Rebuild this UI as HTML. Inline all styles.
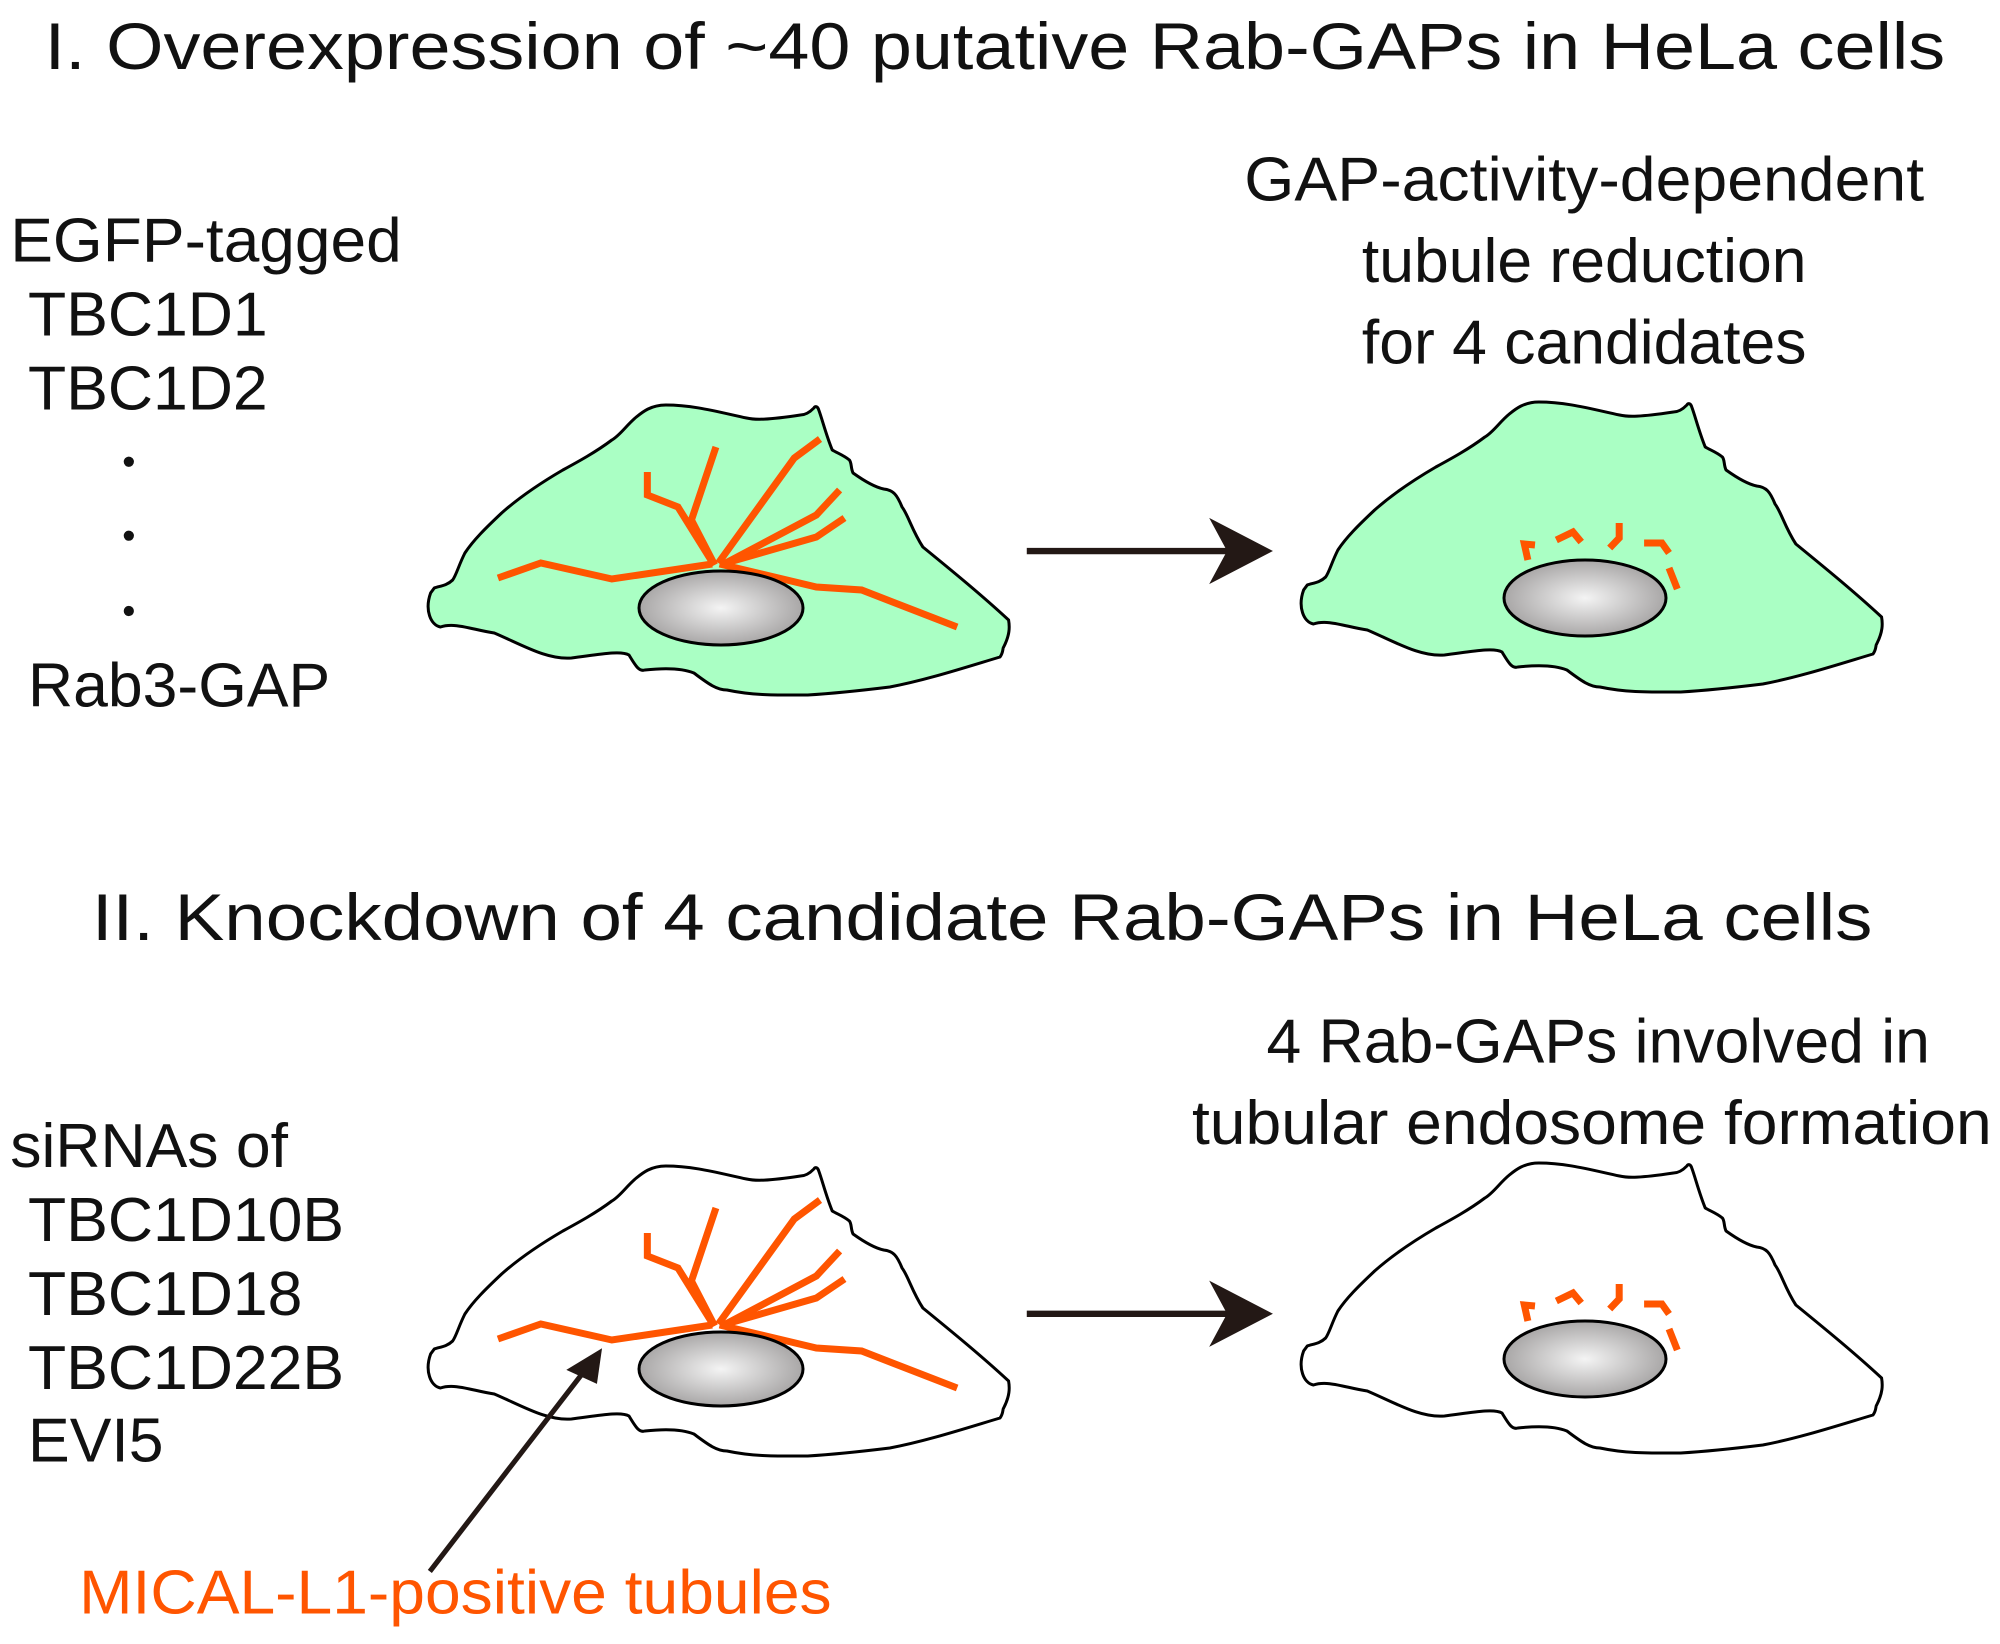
<!DOCTYPE html>
<html><head><meta charset="utf-8"><style>
html,body{margin:0;padding:0;background:#fff;}
svg{display:block;}
text{font-family:"Liberation Sans",Arial,sans-serif;fill:#111;}
</style></head><body>
<svg width="2000" height="1644" viewBox="0 0 2000 1644" xmlns="http://www.w3.org/2000/svg">
<defs>
<radialGradient id="nuc" cx="50%" cy="50%" r="50%">
<stop offset="0" stop-color="#f4f4f4"/><stop offset="1" stop-color="#a9a7a7"/>
</radialGradient>
<path id="cell" vector-effect="non-scaling-stroke" d="M425,593 C420,610 425,625 433,627 C445,622 460,630 477,633 C500,645 520,660 540,658 C560,655 580,650 587,655 C592,665 595,672 600,670 C615,668 630,668 640,673 C650,682 658,690 667,690 C690,696 710,695 733,695 C760,693 780,690 800,687 C830,680 860,668 890,657 C893,652 892,648 893,647 C898,635 898,627 897,620 C875,595 850,570 827,547 C818,530 815,515 810,507 C806,495 803,490 795,489 C787,487 778,480 770,473 C768,468 769,463 767,460 C762,455 757,453 753,450 C748,435 745,420 742,410 C741,406 739,406 738,408 C734,413 730,415 727,415 C700,420 690,420 683,418 C660,412 640,405 617,405 C605,405 598,412 593,417 C585,425 580,435 573,440 C560,452 545,462 533,470 C512,485 495,500 483,513 C470,528 460,540 453,553 C448,565 446,575 443,580 C438,586 432,586 428,588 Z"/>
<g id="tub" fill="none" stroke="#ff5500" stroke-width="7" stroke-linejoin="miter">
<polyline vector-effect="non-scaling-stroke" points="480,578 515,563 573,579 655,564"/>
<polyline vector-effect="non-scaling-stroke" points="602,472 602,495 627,507 656,564"/>
<polyline vector-effect="non-scaling-stroke" points="658,447 638,520 657,565"/>
<polyline vector-effect="non-scaling-stroke" points="743,439 722,458 660,563"/>
<polyline vector-effect="non-scaling-stroke" points="759,490 740,515 663,565"/>
<polyline vector-effect="non-scaling-stroke" points="763,518 740,537 666,563"/>
<polyline vector-effect="non-scaling-stroke" points="661,564 740,587 777,590 855,627"/>
</g>
<g id="dash" fill="none" stroke="#ff5500" stroke-width="7">
<polyline vector-effect="non-scaling-stroke" points="1489,560 1486,544 1495,545"/>
<polyline vector-effect="non-scaling-stroke" points="1513,540 1527,532 1534,542"/>
<polyline vector-effect="non-scaling-stroke" points="1566,523 1566,538 1558,548"/>
<polyline vector-effect="non-scaling-stroke" points="1587,543 1602,543 1608,553"/>
<polyline vector-effect="non-scaling-stroke" points="1608,568 1615,589"/>
</g>
<g id="row">
<g transform="translate(400,0) scale(1.2245,1) translate(-400,0)">
<use href="#CELLFILL"/>
</g>
</g>
</defs>

<!-- Top row -->
<g transform="translate(400,0) scale(1.2245,1) translate(-400,0)">
<use href="#cell" fill="#aaffc4" stroke="#000" stroke-width="3"/>
<use href="#tub"/>
</g>
<ellipse cx="721" cy="608" rx="82" ry="37" fill="url(#nuc)" stroke="#000" stroke-width="3"/>
<g transform="translate(873,-3) translate(400,0) scale(1.2245,1) translate(-400,0)">
<use href="#cell" fill="#aaffc4" stroke="#000" stroke-width="3"/>
</g>
<ellipse cx="1585" cy="598" rx="81" ry="38" fill="url(#nuc)" stroke="#000" stroke-width="3"/>
<g transform="translate(1280,0) scale(1.186,1) translate(-1280,0)"><use href="#dash"/></g>

<!-- Bottom row -->
<g transform="translate(0,761)">
<g transform="translate(400,0) scale(1.2245,1) translate(-400,0)">
<use href="#cell" fill="#fff" stroke="#000" stroke-width="3"/>
<use href="#tub"/>
</g>
<ellipse cx="721" cy="608" rx="82" ry="37" fill="url(#nuc)" stroke="#000" stroke-width="3"/>
<g transform="translate(873,-3) translate(400,0) scale(1.2245,1) translate(-400,0)">
<use href="#cell" fill="#fff" stroke="#000" stroke-width="3"/>
</g>
<ellipse cx="1585" cy="598" rx="81" ry="38" fill="url(#nuc)" stroke="#000" stroke-width="3"/>
<g transform="translate(1280,0) scale(1.186,1) translate(-1280,0)"><use href="#dash"/></g>
</g>

<g transform="scale(1.2755)">
<line x1="805" y1="432" x2="965" y2="432" stroke="#231815" stroke-width="5"/>
<polygon points="998,432 948,406 962,432 948,458" fill="#231815"/>
<line x1="805" y1="1030" x2="965" y2="1030" stroke="#231815" stroke-width="5"/>
<polygon points="998,1030 948,1004 962,1030 948,1056" fill="#231815"/>
<line x1="337" y1="1232" x2="458" y2="1075" stroke="#231815" stroke-width="4"/>
<polygon points="472,1057 444,1074 468,1085" fill="#231815"/>

<text x="35" y="54" font-size="52" textLength="1490" lengthAdjust="spacingAndGlyphs">I. Overexpression of ~40 putative Rab-GAPs in HeLa cells</text>
<g font-size="49">
<text x="8" y="205" textLength="307" lengthAdjust="spacingAndGlyphs">EGFP-tagged</text>
<text x="22" y="263">TBC1D1</text>
<text x="22" y="321">TBC1D2</text>
<text x="22" y="554">Rab3-GAP</text>
<text x="1242" y="157" text-anchor="middle" textLength="533" lengthAdjust="spacingAndGlyphs">GAP-activity-dependent</text>
<text x="1242" y="221" text-anchor="middle">tubule reduction</text>
<text x="1242" y="285" text-anchor="middle">for 4 candidates</text>
</g>
<circle cx="101" cy="362" r="4" fill="#111"/>
<circle cx="101" cy="420" r="4" fill="#111"/>
<circle cx="101" cy="479" r="4" fill="#111"/>

<text x="72" y="737" font-size="52" textLength="1396" lengthAdjust="spacingAndGlyphs">II.  Knockdown of 4 candidate Rab-GAPs in HeLa cells</text>
<g font-size="49">
<text x="8" y="915">siRNAs of</text>
<text x="22" y="973">TBC1D10B</text>
<text x="22" y="1031">TBC1D18</text>
<text x="22" y="1089">TBC1D22B</text>
<text x="22" y="1146">EVI5</text>
<text x="1253" y="833" text-anchor="middle">4 Rab-GAPs involved in</text>
<text x="1248" y="897" text-anchor="middle" textLength="627" lengthAdjust="spacingAndGlyphs">tubular endosome formation</text>
<text x="62" y="1265" style="fill:#ff5500" textLength="590" lengthAdjust="spacingAndGlyphs">MICAL-L1-positive tubules</text>
</g>
</g>
</svg>
</body></html>
